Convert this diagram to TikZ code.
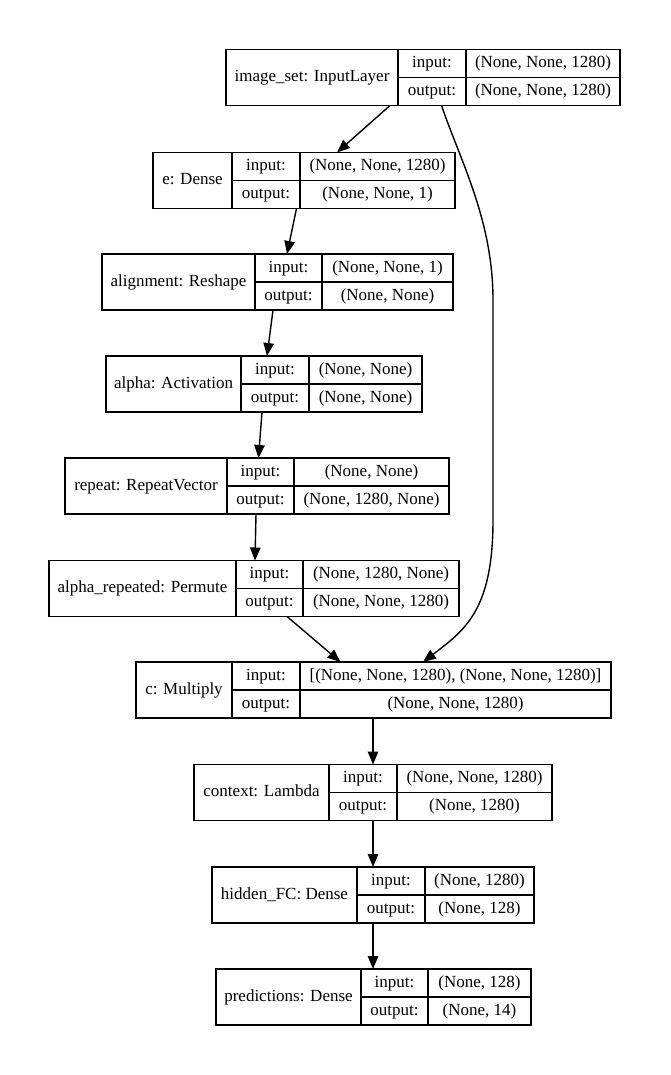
\documentclass[tikz,border=0pt]{standalone}
\usepackage{fontspec}
\setmainfont{Liberation Serif}
\usetikzlibrary{arrows.meta}
\tikzset{
  boxframe/.style={draw=black, line width=1.5pt, inner sep=0pt, outer sep=0pt, minimum height=56pt},
  boxline/.style={draw=black, line width=1.5pt},
  txt/.style={inner sep=0pt, font=\fontsize{17}{18}\selectfont, text height=12pt, text depth=4pt},
  arr/.style={draw=black, line width=1.4pt, -{Triangle[length=13pt,width=10.5pt]}},
}
% name, xl, d1, d2, xr, ytop, label, in, out
\newcommand{\layerbox}[9]{%
  \node[boxframe, minimum width={(#5-#2)*1pt}] (#1) at ({(#2+#5)/2},{#6+28}) {};
  \draw[boxline] (#3,#6) -- (#3,#6+56);
  \draw[boxline] (#4,#6) -- (#4,#6+56);
  \draw[boxline] (#3,#6+28) -- (#5,#6+28);
  \node[txt] (#1-l) at ({(#2+#3)/2},{#6+28}) {#7};
  \node[txt] (#1-ik) at ({(#3+#4)/2},{#6+14}) {input:};
  \node[txt] (#1-ok) at ({(#3+#4)/2},{#6+42}) {output:};
  \node[txt] (#1-iv) at ({(#4+#5)/2},{#6+14}) {#8};
  \node[txt] (#1-ov) at ({(#4+#5)/2},{#6+42}) {#9};
}
\begin{document}
\begin{tikzpicture}[x=1pt,y=-1pt]
\useasboundingbox[fill=white] (0,0) rectangle (670,1075);
\layerbox{b1}{226}{398}{466}{620}{49.5}{image\_set: InputLayer}{(None, None, 1280)}{(None, None, 1280)}
\layerbox{b2}{153}{232}{300}{455}{152.5}{e: Dense}{(None, None, 1280)}{(None, None, 1)}
\layerbox{b3}{102}{255}{322}{453}{254}{alignment: Reshape}{(None, None, 1)}{(None, None)}
\layerbox{b4}{106}{241}{309}{422}{356}{alpha: Activation}{(None, None)}{(None, None)}
\layerbox{b5}{65}{227}{294}{449}{458}{repeat: RepeatVector}{(None, None)}{(None, 1280, None)}
\layerbox{b6}{49}{236}{303}{459}{560.5}{alpha\_repeated: Permute}{(None, 1280, None)}{(None, None, 1280)}
\layerbox{b7}{136}{232}{300}{611}{662}{c: Multiply}{[(None, None, 1280), (None, None, 1280)]}{(None, None, 1280)}
\layerbox{b8}{194}{329}{397}{552}{764.5}{context: Lambda}{(None, None, 1280)}{(None, 1280)}
\layerbox{b9}{212}{357}{425}{534}{867}{hidden\_FC: Dense}{(None, 1280)}{(None, 128)}
\layerbox{b10}{216}{361}{428}{531}{969}{predictions: Dense}{(None, 128)}{(None, 14)}

\draw[arr] ([xshift=164pt]b1.south west) -- ([xshift=184pt]b2.north west);
\draw[arr] ([xshift=215.5pt]b1.south west) .. controls (460,160) and (493,220) .. (493,300)
  -- (493,520) .. controls (493,610) and (465,630) .. ([xshift=287pt]b7.north west);
\draw[arr] ([xshift=143.5pt]b2.south west) -- ([xshift=185pt]b3.north west);
\draw[arr] ([xshift=171pt]b3.south west) -- ([xshift=161pt]b4.north west);
\draw[arr] ([xshift=156pt]b4.south west) -- ([xshift=193.5pt]b5.north west);
\draw[arr] ([xshift=191pt]b5.south west) -- ([xshift=206pt]b6.north west);
\draw[arr] ([xshift=238pt]b6.south west) -- ([xshift=204.5pt]b7.north west);
\draw[arr] ([xshift=237pt]b7.south west) -- ([xshift=179pt]b8.north west);
\draw[arr] ([xshift=179pt]b8.south west) -- ([xshift=161pt]b9.north west);
\draw[arr] ([xshift=161pt]b9.south west) -- ([xshift=157pt]b10.north west);
\end{tikzpicture}
\end{document}
